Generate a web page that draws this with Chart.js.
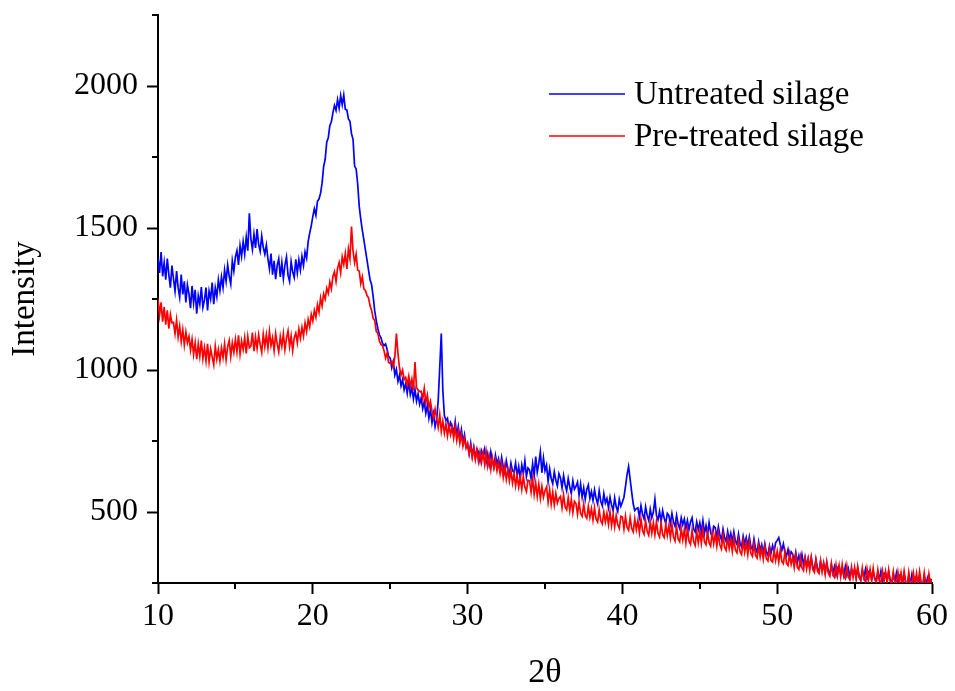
<!DOCTYPE html>
<html>
<head>
<meta charset="utf-8">
<script src="https://cdn.jsdelivr.net/npm/chart.js@4/dist/chart.umd.min.js"></script>
<style>
html,body{margin:0;padding:0;background:#fff;}
#wrap{width:955px;height:691px;}
</style>
</head>
<body>
<div id="wrap"><canvas id="c" width="955" height="691"></canvas></div>
<script>
// 2θ grid: 10.0 .. 60.0, step 0.1
const thetaStart = 10, thetaStep = 0.1, nPoints = 501;
const twoTheta = Array.from({length: nPoints}, (_, i) => +(thetaStart + i * thetaStep).toFixed(1));

const seriesNames = ["Untreated silage", "Pre-treated silage"];
const xTicks = [10, 20, 30, 40, 50, 60];
const xMinorTicks = [15, 25, 35, 45, 55];
const yTicks = [500, 1000, 1500, 2000];
const yMinorTicks = [250, 750, 1250, 1750, 2250];

const untreated = [
1395,1342,1415,1330,1378,1318,1392,1336,1290,1368,
1322,1278,1348,1290,1256,1336,1266,1312,1238,1300,
1268,1218,1296,1236,1282,1198,1262,1232,1292,1220,
1246,1290,1210,1278,1250,1308,1232,1290,1258,1318,
1280,1328,1290,1352,1312,1370,1330,1302,1385,1348,
1398,1420,1370,1438,1400,1452,1408,1468,1420,1552,
1462,1425,1478,1430,1496,1442,1418,1472,1432,1408,
1440,1392,1356,1410,1336,1384,1320,1368,1392,1328,
1378,1322,1370,1398,1334,1312,1382,1346,1326,1390,
1342,1388,1352,1400,1368,1416,1394,1452,1482,1508,
1540,1568,1545,1594,1602,1622,1658,1716,1742,1802,
1818,1860,1874,1906,1932,1914,1952,1922,1966,1934,
1968,1918,1916,1884,1876,1832,1812,1718,1708,1654,
1576,1530,1492,1458,1422,1388,1352,1318,1300,1258,
1208,1174,1146,1124,1114,1094,1086,1092,1072,1048,
1042,1008,1030,982,1002,960,982,944,966,930,
952,918,960,914,938,898,932,890,916,880,
902,864,888,848,876,830,862,814,846,800,
826,892,1008,1128,928,840,822,830,792,815,
802,775,818,770,801,758,790,745,772,730,
738,705,742,698,728,690,722,712,680,715,
698,722,676,705,668,712,682,658,700,670,
688,652,692,660,638,680,650,632,672,645,
640,672,628,660,618,665,635,680,625,655,
648,618,670,628,695,640,672,712,638,690,
645,665,608,652,618,600,642,612,592,635,
620,585,628,596,575,618,588,565,610,580,
590,605,560,598,552,585,545,580,595,548,
572,540,578,548,528,575,538,522,565,532,
548,515,552,525,505,550,518,502,545,520,
535,552,590,632,660,615,570,528,505,512,
515,482,522,492,476,518,488,470,510,480,
500,545,488,472,502,466,505,478,460,495,
488,458,495,465,450,488,458,442,480,455,
475,442,470,438,465,480,440,430,465,438,
462,428,470,425,452,420,462,428,412,450,
445,410,448,418,402,440,410,396,432,402,
425,394,430,398,386,422,390,378,415,388,
410,380,412,378,368,405,372,358,395,365,
385,355,388,358,348,380,355,382,360,392,
400,410,385,365,388,358,345,368,338,360,
352,328,358,322,346,318,350,315,340,310,
335,305,340,308,296,332,302,290,325,298,
318,288,322,292,282,315,285,308,278,305,
310,280,305,276,308,278,300,270,298,276,
298,268,302,272,262,295,270,298,265,290,
295,262,290,268,256,288,262,292,255,284,
285,255,290,260,250,282,256,285,248,278,
278,248,282,252,242,276,248,280,240,270,
270,242,276,245,238,272,240,266,235,262,
258
];

const pretreated = [
1250,1192,1238,1170,1222,1160,1210,1146,1196,1166,
1168,1128,1176,1116,1154,1100,1142,1088,1134,1096,
1118,1070,1108,1055,1096,1038,1092,1048,1104,1040,
1078,1032,1092,1028,1074,1046,1018,1084,1038,1072,
1032,1078,1044,1092,1036,1082,1104,1048,1096,1062,
1108,1064,1122,1056,1102,1072,1114,1058,1118,1078,
1084,1132,1066,1116,1076,1124,1090,1062,1126,1082,
1124,1078,1136,1086,1114,1068,1128,1092,1064,1118,
1084,1128,1072,1112,1138,1082,1120,1068,1114,1130,
1096,1144,1112,1150,1120,1166,1136,1178,1152,1196,
1172,1210,1186,1230,1204,1254,1226,1268,1250,1288,
1270,1310,1286,1330,1346,1312,1358,1378,1342,1398,
1372,1410,1356,1426,1392,1505,1418,1378,1408,1352,
1348,1304,1328,1286,1280,1262,1254,1226,1210,1182,
1174,1136,1130,1102,1090,1086,1068,1042,1060,1026,
1024,1030,1012,1046,1128,1058,1008,982,1000,966,
974,948,978,942,968,928,1028,938,930,924,
925,898,935,885,912,868,890,855,832,862,
830,798,842,785,820,778,810,768,805,772,
798,760,800,752,785,742,772,732,760,725,
742,705,732,692,725,685,718,678,712,675,
708,668,712,662,695,650,690,655,682,645,
675,635,668,622,660,615,650,610,645,602,
635,592,628,588,622,580,625,588,572,612,
610,570,618,562,602,555,598,548,590,552,
575,588,535,578,528,570,525,565,532,548,
555,515,560,518,508,550,505,545,498,538,
530,492,535,495,485,528,488,478,520,482,
512,472,515,475,465,508,470,458,500,465,
495,456,500,452,490,448,488,455,442,485,
482,440,485,446,436,480,442,430,476,438,
470,428,475,435,422,468,432,418,465,426,
462,420,466,425,412,460,420,410,456,418,
452,410,456,412,398,450,405,395,442,402,
438,392,440,398,386,436,396,382,432,392,
432,390,438,395,385,430,392,380,428,388,
422,380,425,384,370,418,376,365,410,372,
402,362,408,366,356,400,360,350,398,358,
392,350,395,354,344,388,348,338,380,342,
372,334,378,336,328,370,330,324,366,330,
362,324,366,326,318,360,320,312,352,316,
342,305,348,306,298,342,304,294,338,300,
335,296,340,298,288,332,292,284,328,288,
320,280,324,284,274,318,278,270,314,276,
312,272,315,276,266,310,270,262,306,270,
305,265,308,268,258,302,264,255,300,262,
298,258,302,262,252,296,258,250,292,256,
290,252,296,256,246,290,252,244,288,250,
286,248,292,252,242,288,248,240,285,248,
284,246,290,250,240,286,246,238,282,248,
265
];

const FONT = "'Liberation Serif', 'Times New Roman', serif";
const colors = ["#0000ff", "#ff0000"];

const toPts = arr => twoTheta.map((t, i) => ({x: t, y: arr[i]}));

const extrasPlugin = {
  id: 'extras',
  afterDraw(chart) {
    const ctx = chart.ctx;
    const xs = chart.scales.x, ys = chart.scales.y;
    const area = chart.chartArea;
    ctx.save();
    ctx.strokeStyle = '#000';
    ctx.lineWidth = 2;
    ctx.beginPath();
    xMinorTicks.forEach(v => {
      const px = Math.round(xs.getPixelForValue(v));
      ctx.moveTo(px, area.bottom);
      ctx.lineTo(px, area.bottom + 6);
    });
    yMinorTicks.forEach(v => {
      const py = Math.round(ys.getPixelForValue(v));
      ctx.moveTo(area.left, py);
      ctx.lineTo(area.left - 6, py);
    });
    ctx.stroke();
    // legend
    const lx0 = 549, lx1 = 625, tx = 634;
    const rows = [94, 136];
    ctx.font = "33px " + FONT;
    ctx.textBaseline = 'middle';
    ctx.textAlign = 'left';
    chart.data.datasets.forEach((ds, i) => {
      ctx.strokeStyle = ds.borderColor;
      ctx.lineWidth = 1.3;
      ctx.beginPath();
      ctx.moveTo(lx0, rows[i]);
      ctx.lineTo(lx1, rows[i]);
      ctx.stroke();
      ctx.fillStyle = '#000';
      ctx.fillText(ds.label, tx, rows[i] + 1);
    });
    ctx.restore();
  }
};

new Chart(document.getElementById('c'), {
  type: 'line',
  data: {
    datasets: [
      {label: seriesNames[0], data: toPts(untreated), borderColor: colors[0], borderWidth: 1.7, pointRadius: 0, order: 2},
      {label: seriesNames[1], data: toPts(pretreated), borderColor: colors[1], borderWidth: 1.7, pointRadius: 0, order: 1}
    ]
  },
  options: {
    responsive: false,
    animation: false,
    events: [],
    layout: {padding: {top: 15, right: 23, left: 0, bottom: 0}},
    plugins: {legend: {display: false}, tooltip: {enabled: false}},
    scales: {
      x: {
        type: 'linear', min: 10, max: 60,
        afterBuildTicks: s => { s.ticks = xTicks.map(v => ({value: v})); },
        afterFit: s => { s.height = 108; s.paddingLeft = 0; s.paddingRight = 0; },
        border: {display: true, color: '#000', width: 2},
        grid: {display: true, drawOnChartArea: false, drawTicks: true, tickLength: 11, tickWidth: 2, tickColor: '#000', color: '#000'},
        ticks: {color: '#000', font: {family: FONT, size: 32}, padding: 3, maxRotation: 0, callback: v => String(v)},
        title: {display: true, text: '2θ', color: '#000', font: {family: FONT, size: 34, lineHeight: 1}, padding: {top: 0, bottom: 1}}
      },
      y: {
        type: 'linear', min: 250, max: 2250,
        afterBuildTicks: s => { s.ticks = yTicks.map(v => ({value: v})); },
        afterFit: s => { s.width = 158; s.paddingTop = 0; s.paddingBottom = 0; },
        border: {display: true, color: '#000', width: 2},
        grid: {display: true, drawOnChartArea: false, drawTicks: true, tickLength: 11, tickWidth: 2, tickColor: '#000', color: '#000'},
        ticks: {color: '#000', font: {family: FONT, size: 32}, padding: 9, callback: v => String(v)},
        title: {display: true, text: 'Intensity', color: '#000', font: {family: FONT, size: 33, lineHeight: 1}, padding: {top: 9, bottom: 0}}
      }
    }
  },
  plugins: [extrasPlugin]
});
</script>
</body>
</html>
